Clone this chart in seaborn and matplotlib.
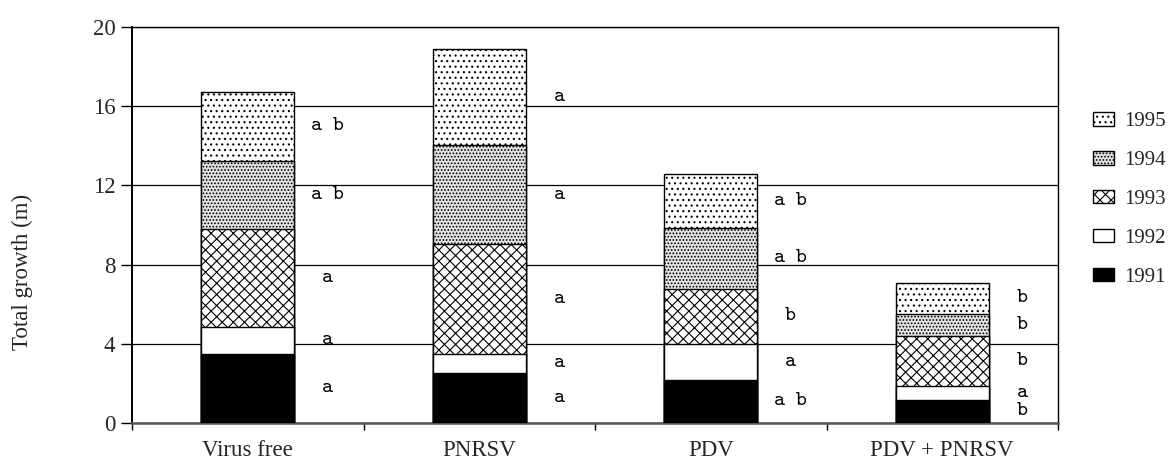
import numpy as np
import pandas as pd
import matplotlib
matplotlib.use("Agg")
import matplotlib.pyplot as plt
import seaborn as sns

# ---- data ----
treatments = ["Virus free", "PNRSV", "PDV", "PDV + PNRSV"]
years = ["1991", "1992", "1993", "1994", "1995"]
growth_1991 = [3.50, 2.52, 2.19, 1.18]
growth_1992 = [1.36, 0.98, 1.81, 0.67]
growth_1993 = [4.95, 5.55, 2.77, 2.56]
growth_1994 = [3.44, 4.97, 3.08, 1.11]
growth_1995 = [3.47, 4.87, 2.71, 1.55]
letters_1991 = ["a", "a", "a b", "b"]
letters_1992 = ["a", "a", "a", "a"]
letters_1993 = ["a", "a", "b", "b"]
letters_1994 = ["a b", "a", "a b", "b"]
letters_1995 = ["a b", "a", "a b", "b"]
y_ticks = [0, 4, 8, 12, 16, 20]

sns.set_style("white")
plt.rcParams["font.family"] = ["Liberation Serif", "DejaVu Serif"]
plt.rcParams["hatch.color"] = "black"
plt.rcParams["hatch.linewidth"] = 0.8

increments = [growth_1991, growth_1992, growth_1993, growth_1994, growth_1995]
letters = [letters_1991, letters_1992, letters_1993, letters_1994, letters_1995]
cum = np.cumsum(np.array(increments), axis=0)

styles = {
    "1991": dict(color="black", hatch=None),
    "1992": dict(color="white", hatch=None),
    "1993": dict(color="white", hatch="xxx"),
    "1994": dict(color="#e2e2e2", hatch="....."),
    "1995": dict(color="white", hatch="..."),
}

fig = plt.figure(figsize=(11.74, 4.59), dpi=100)
ax = fig.add_axes([132 / 1174, 36 / 459, 926 / 1174, 396 / 459])

# draw from the tallest cumulative total down so lower segments overlay
handles = {}
for i in range(len(years) - 1, -1, -1):
    yr = years[i]
    df = pd.DataFrame({"treatment": treatments, "total": cum[i]})
    st = styles[yr]
    sns.barplot(data=df, x="treatment", y="total", order=treatments,
                color=st["color"], saturation=1, width=0.4,
                edgecolor="black", linewidth=1.0, hatch=st["hatch"],
                ax=ax, zorder=3)
    handles[yr] = ax.containers[-1].patches[0]

# significance letters at the segment mid-points, right of each bar
for i in range(len(years)):
    lower = cum[i - 1] if i > 0 else np.zeros(len(treatments))
    mids = (lower + cum[i]) / 2
    for j in range(len(treatments)):
        ax.text(j + 0.345, mids[j], letters[i][j], ha="center", va="center",
                fontsize=15, family=["cmtt10", "DejaVu Sans Mono"],
                color="black", zorder=4)

ax.set_xlim(-0.5, 3.5)
ax.set_ylim(0, 20)
ax.set_yticks(y_ticks)
ax.yaxis.grid(True, color="black", linewidth=0.9)
ax.set_axisbelow(True)
ax.set_xlabel("")
ax.set_ylabel("")

ax.set_xticks(np.arange(-0.5, 4.0, 1.0), minor=True)
ax.tick_params(axis="x", which="major", length=0, pad=12, labelsize=16.5)
ax.tick_params(axis="x", which="minor", direction="out", length=5, width=1,
               color="black", bottom=True)
ax.tick_params(axis="y", which="major", direction="out", length=8, width=1,
               color="black", left=True, pad=4, labelsize=16.5)

for s in ["top", "right", "left"]:
    ax.spines[s].set_color("black")
    ax.spines[s].set_linewidth(1.0)
ax.spines["bottom"].set_color("#555555")
ax.spines["bottom"].set_linewidth(1.8)
ax.spines["left"].set_linewidth(1.4)

fig.text(22 / 1174, 1 - 272 / 459, "Total growth (m)", rotation=90,
         ha="center", va="center", fontsize=16.5)

order = ["1995", "1994", "1993", "1992", "1991"]
ax.legend([handles[y] for y in order], order, loc="center left",
          bbox_to_anchor=(1093 / 1174, 1 - 199.5 / 459),
          bbox_transform=fig.transFigure, frameon=False, fontsize=15,
          borderpad=0, borderaxespad=0, handlelength=1.0,
          handleheight=0.62, handletextpad=0.5, labelspacing=0.95)

fig.savefig("out.png", dpi=100)
